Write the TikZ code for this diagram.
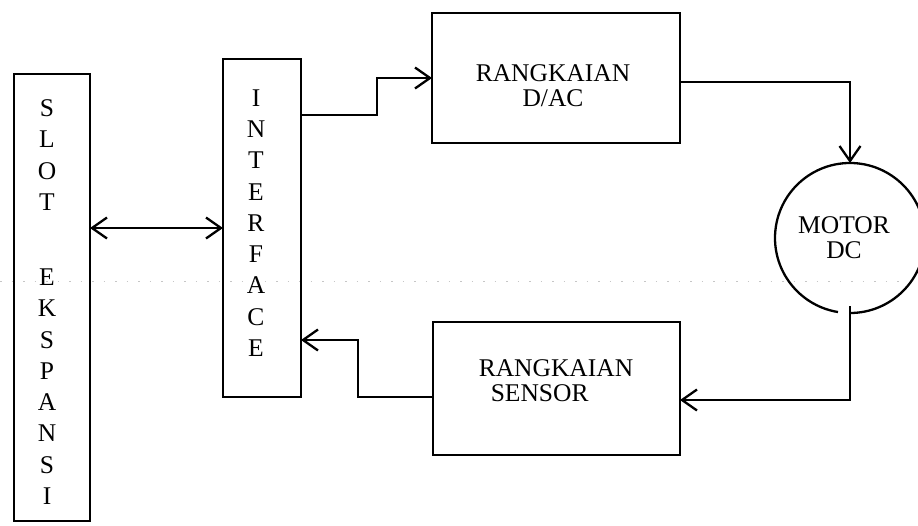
\documentclass[tikz,border=0pt]{standalone}
\usepackage{fontspec}
\setmainfont{Liberation Serif}
\usetikzlibrary{arrows.meta}
\begin{document}
\begin{tikzpicture}[x=1pt,y=-1pt,
  blk/.style={draw,line width=2.6pt,inner sep=0pt,outer sep=0pt},
  lbl/.style={font=\fontsize{25.5}{25}\selectfont,inner sep=0pt},
  vlbl/.style={font=\fontsize{25.5}{31.25}\selectfont,align=center,inner sep=0pt},
  conn/.style={line width=2.3pt},
  >={Straight Barb[length=15pt,width=21pt,line width=2.3pt]}]
\useasboundingbox (0,0) rectangle (918,525);
% faint scan line
\draw[gray!45,line width=0.8pt,dash pattern=on 1.5pt off 10pt] (0,281) -- (905,281);
% blocks
\node[blk,minimum width=76pt,minimum height=447pt] (slot) at (52,297.5) {};
\node[blk,minimum width=78pt,minimum height=338pt] (iface) at (262,228) {};
\node[blk,minimum width=248pt,minimum height=130pt] (dac) at (556,78) {};
\node[blk,minimum width=247pt,minimum height=133pt] (sensor) at (556.5,388.5) {};
\node[circle,minimum size=150pt,inner sep=0pt,outer sep=0pt] (motor) at (850,238) {};
\draw[line width=2.3pt] (motor.south) arc[start angle=90,end angle=-260.8,radius=75];
% labels
\node[vlbl] (slottxt) at (47,302) {S\\L\\O\\T\\[44pt]E\\K\\S\\P\\A\\N\\S\\I};
\node[vlbl] (ifacetxt) at (256,223) {I\\N\\T\\E\\R\\F\\A\\C\\E};
\node[lbl,align=center] (dactxt) at (553,85.5) {RANGKAIAN\\D/AC};
\node[lbl,align=left] (sensortxt) at (556,381) {RANGKAIAN\\\hspace*{12pt}SENSOR};
\node[lbl,align=center] (motortxt) at (844,237.5) {MOTOR\\DC};
% connectors
\draw[conn,<->] (iface.west -| slot.east) -- (iface.west);
\draw[conn,->] ([yshift=-56pt]iface.north east) -- ++(76,0) |- (dac.west);
\draw[conn,->] ([yshift=-4pt]dac.east) -| (motor.north);
\draw[conn,->] ([yshift=7pt]motor.south) |- ([yshift=-11.5pt]sensor.east);
\draw[conn,->] ([yshift=-8.5pt]sensor.west) -- ++(-75,0) |- ([yshift=-112pt]iface.east);
\end{tikzpicture}
\end{document}
